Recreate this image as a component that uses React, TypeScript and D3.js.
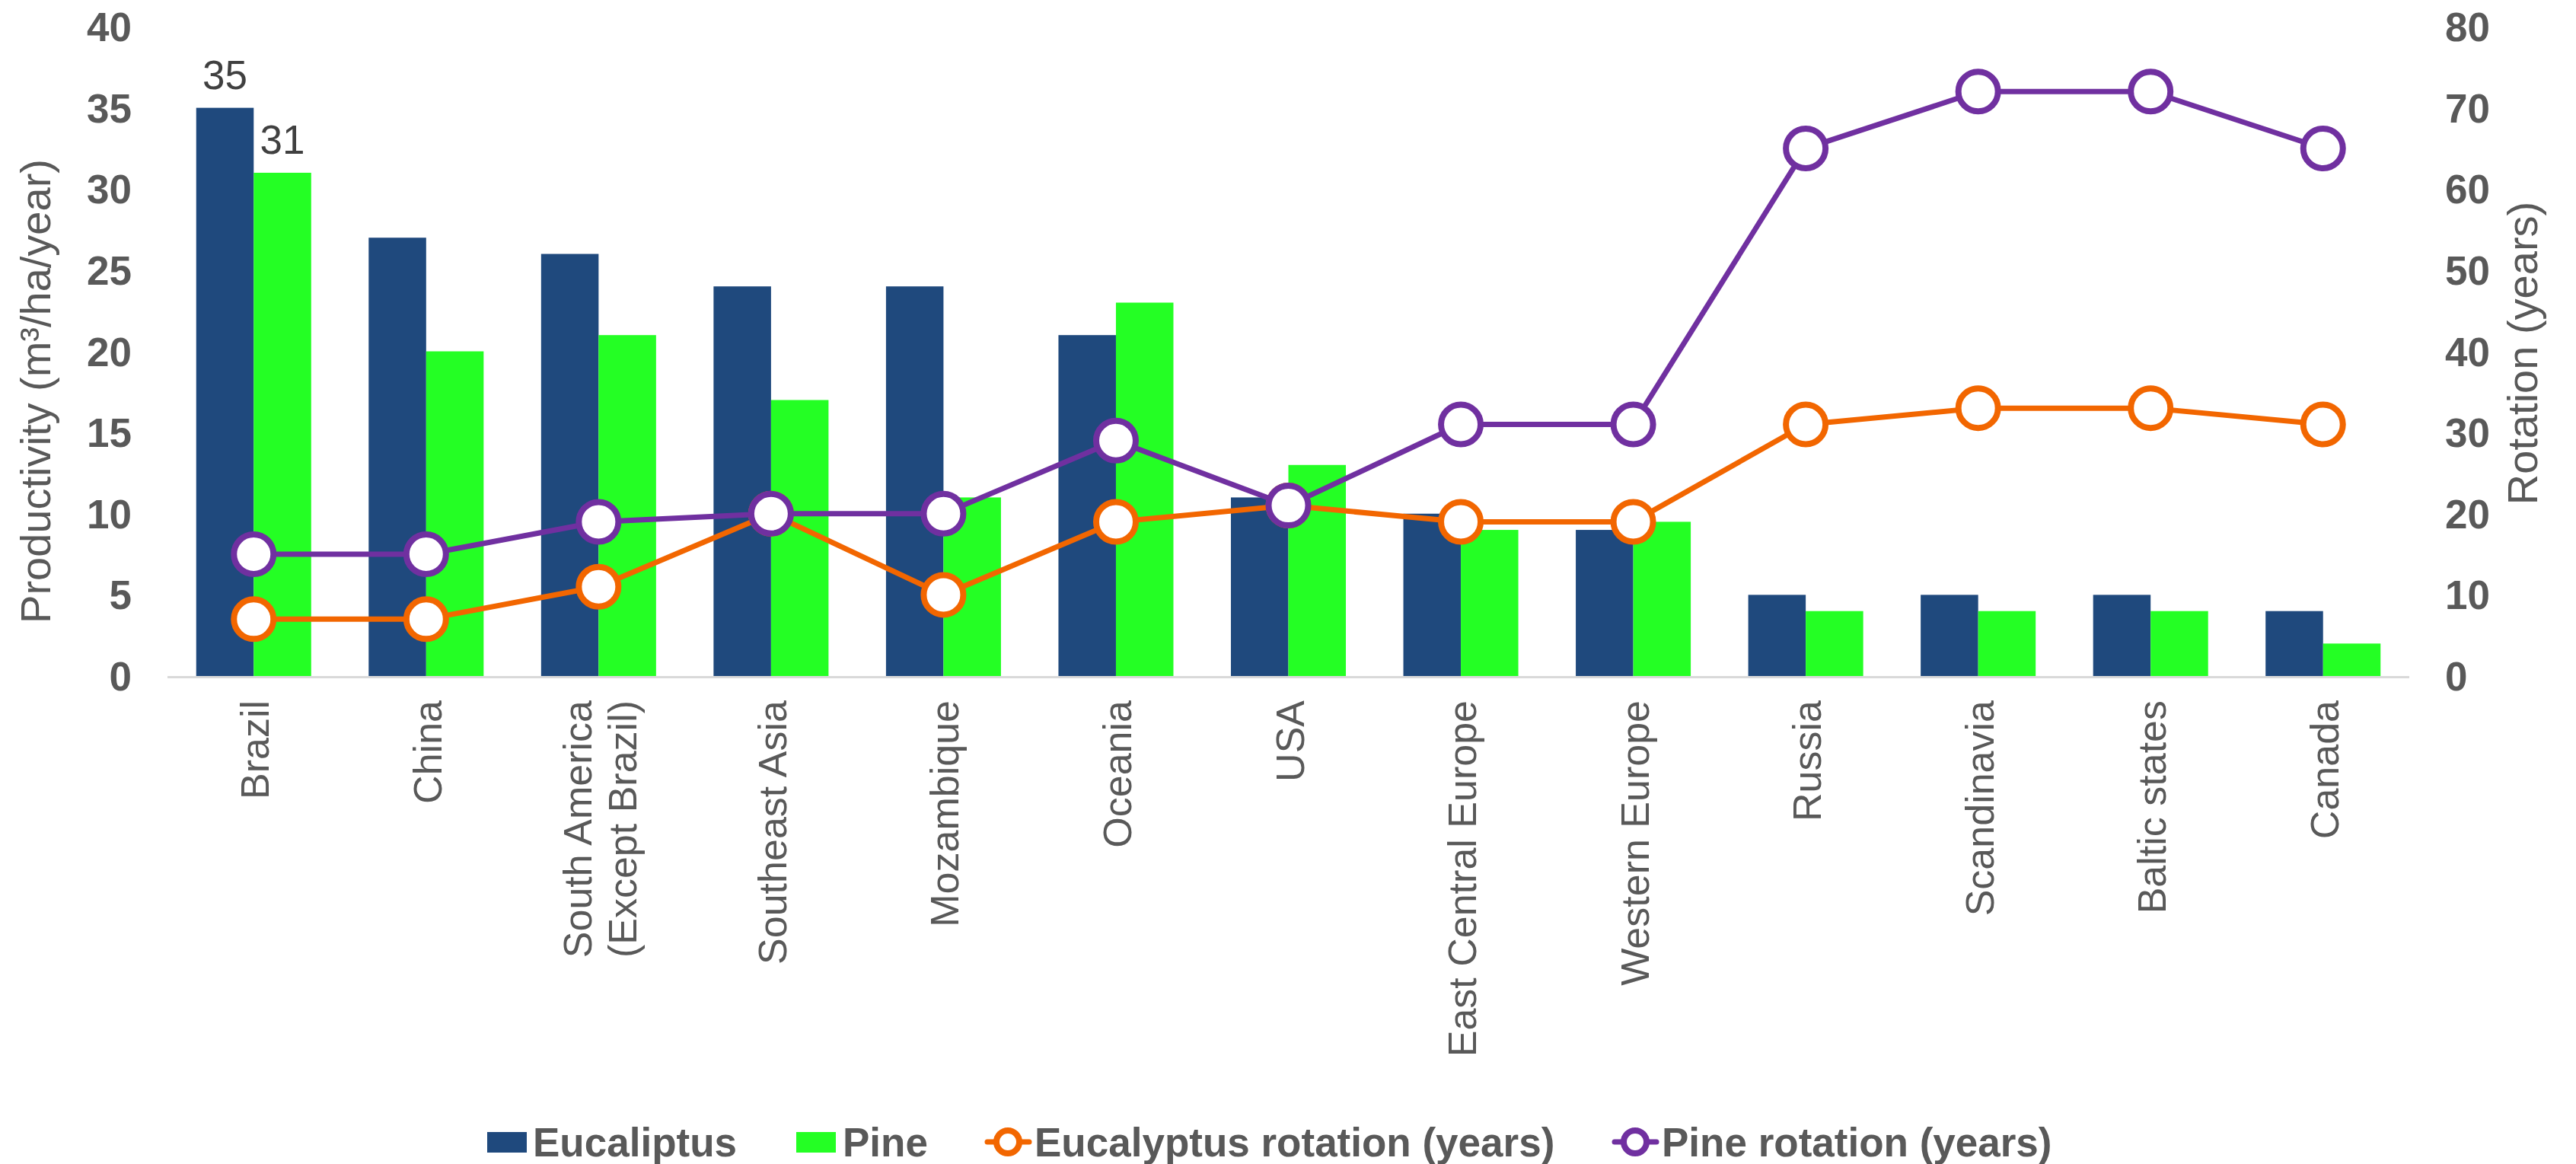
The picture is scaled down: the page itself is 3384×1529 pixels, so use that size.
import React, { useEffect } from 'react';
import * as d3 from 'd3';

const categories = [
  'Brazil', 'China', 'South America\n(Except Brazil)', 'Southeast Asia', 'Mozambique', 'Oceania', 'USA',
  'East Central Europe', 'Western Europe', 'Russia', 'Scandinavia', 'Baltic states', 'Canada',
];
const eucalyptus = [35, 27, 26, 24, 24, 21, 11, 10, 9, 5, 5, 5, 4];
const pine = [31, 20, 21, 17, 11, 23, 13, 9, 9.5, 4, 4, 4, 2];
const eucRotation = [7, 7, 11, 20, 10, 19, 21, 19, 19, 31, 33, 33, 31];
const pineRotation = [15, 15, 19, 20, 20, 29, 21, 31, 31, 65, 72, 72, 65];
const leftTicks = [0, 5, 10, 15, 20, 25, 30, 35, 40];
const rightTicks = [0, 10, 20, 30, 40, 50, 60, 70, 80];
// only the first group carries data labels in the original
const labelled = [0];

const W = 3384;
const H = 1529;
const FONT = '"Liberation Sans", Arial, Helvetica, sans-serif';
const GREY = '#595959';
const C_EUC = '#1F497D';
const C_PINE = '#24FF24';
const C_EROT = '#F26600';
const C_PROT = '#7030A0';

const App: React.FC = () => {
  useEffect(() => {
    document.body.style.margin = '0';
  }, []);

  const x = d3.scaleBand<string>().domain(categories).range([220, 3165]).paddingInner(1 / 3).paddingOuter(1 / 6);
  const sub = d3.scaleBand<string>().domain(['euc', 'pine']).range([0, x.bandwidth()]);
  const yL = d3.scaleLinear().domain([0, 40]).range([888, 35]);
  const yR = d3.scaleLinear().domain([0, 80]).range([888, 35]);
  const cx = (i: number) => (x(categories[i]) as number) + x.bandwidth() / 2;

  const line = d3.line<number>().x((_, i) => cx(i)).y(d => yR(d));

  const lineSeries = [
    { values: eucRotation, color: C_EROT },
    { values: pineRotation, color: C_PROT },
  ];

  return (
    <svg width={W} height={H} style={{ display: 'block', background: '#fff' }} fontFamily={FONT}>
      {/* bars */}
      {categories.map((c, i) => (
        <g key={c}>
          <rect x={(x(c) as number) + (sub('euc') as number)} y={yL(eucalyptus[i])} width={sub.bandwidth()}
            height={yL(0) - yL(eucalyptus[i])} fill={C_EUC} />
          <rect x={(x(c) as number) + (sub('pine') as number)} y={yL(pine[i])} width={sub.bandwidth()}
            height={yL(0) - yL(pine[i])} fill={C_PINE} />
        </g>
      ))}

      {/* axis baseline */}
      <line x1={220} x2={3165} y1={yL(0) + 1.5} y2={yL(0) + 1.5} stroke="#D9D9D9" strokeWidth={3} />

      {/* data labels */}
      {labelled.map(i => (
        <g key={'lab' + i} fontSize={53} fill="#404040" textAnchor="middle">
          <text x={(x(categories[i]) as number) + (sub('euc') as number) + sub.bandwidth() / 2} y={yL(eucalyptus[i]) - 25}>
            {eucalyptus[i]}
          </text>
          <text x={(x(categories[i]) as number) + (sub('pine') as number) + sub.bandwidth() / 2} y={yL(pine[i]) - 25}>
            {pine[i]}
          </text>
        </g>
      ))}

      {/* lines + markers */}
      {lineSeries.map(s => (
        <g key={s.color}>
          <path d={line(s.values) as string} fill="none" stroke={s.color} strokeWidth={7} strokeLinejoin="round" />
          {s.values.map((v, i) => (
            <circle key={i} cx={cx(i)} cy={yR(v)} r={26} fill="#fff" stroke={s.color} strokeWidth={8} />
          ))}
        </g>
      ))}

      {/* left ticks */}
      <g fontSize={53} fontWeight="bold" fill={GREY}>
        {leftTicks.map(t => (
          <text key={'l' + t} x={173} y={yL(t)} dy="0.36em" textAnchor="end">{t}</text>
        ))}
        {rightTicks.map(t => (
          <text key={'r' + t} x={3212} y={yR(t)} dy="0.36em" textAnchor="start">{t}</text>
        ))}
      </g>

      {/* axis titles */}
      <text transform="translate(66,514) rotate(-90)" textAnchor="middle" fontSize={56} fill={GREY}>
        Productivity (m³/ha/year)
      </text>
      <text transform="translate(3333,464) rotate(-90)" textAnchor="middle" fontSize={56} fill={GREY}>
        Rotation (years)
      </text>

      {/* category labels */}
      {categories.map((c, i) => {
        const lines = c.split('\n');
        const lh = 59;
        return (
          <text key={'c' + i} transform={`translate(${cx(i)},920) rotate(-90)`} textAnchor="end" fontSize={52} fill={GREY}>
            {lines.map((ln, j) => (
              <tspan key={j} x={0} y={20 - ((lines.length - 1) * lh) / 2 + j * lh}>{ln}</tspan>
            ))}
          </text>
        );
      })}

      {/* legend */}
      <g fontSize={53} fontWeight="bold" fill={GREY}>
        <rect x={640} y={1487} width={52} height={27} fill={C_EUC} />
        <text x={700} y={1500} dy="0.36em">Eucaliptus</text>
        <rect x={1046} y={1487} width={52} height={27} fill={C_PINE} />
        <text x={1107} y={1500} dy="0.36em">Pine</text>
        <line x1={1297} x2={1352} y1={1500} y2={1500} stroke={C_EROT} strokeWidth={7} strokeLinecap="round" />
        <circle cx={1324} cy={1500} r={15} fill="#fff" stroke={C_EROT} strokeWidth={8} />
        <text x={1359} y={1500} dy="0.36em">Eucalyptus rotation (years)</text>
        <line x1={2121} x2={2176} y1={1500} y2={1500} stroke={C_PROT} strokeWidth={7} strokeLinecap="round" />
        <circle cx={2148} cy={1500} r={15} fill="#fff" stroke={C_PROT} strokeWidth={8} />
        <text x={2183} y={1500} dy="0.36em">Pine rotation (years)</text>
      </g>
    </svg>
  );
};

export default App;
